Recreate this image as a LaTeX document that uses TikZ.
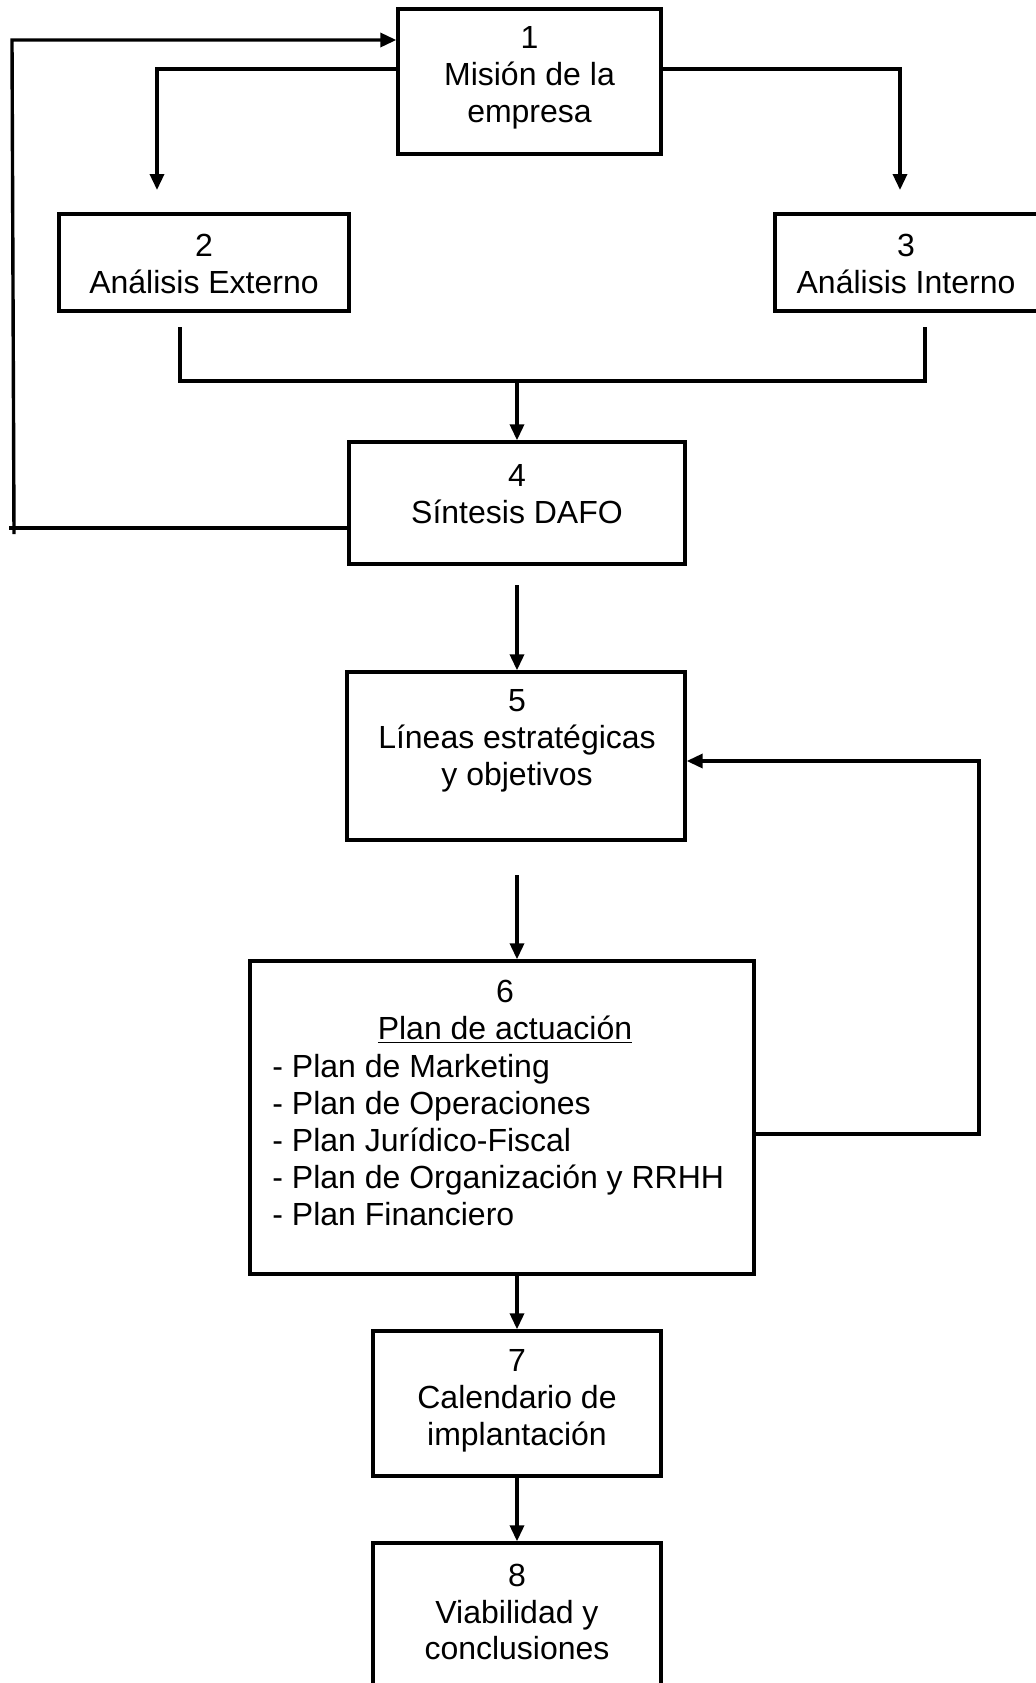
\documentclass[tikz,border=0pt]{standalone}
\usepackage{fontspec}
\setmainfont{Liberation Sans}
\usetikzlibrary{arrows.meta,calc}
\begin{document}
\begin{tikzpicture}[x=0.5pt,y=-0.5pt,
  box/.style={draw,line width=1.7pt,inner sep=0pt},
  txt/.style={align=center,inner sep=0pt,font=\fontsize{16}{18.4}\selectfont},
  lst/.style={align=left,inner sep=0pt,anchor=west,font=\fontsize{16}{18.4}\selectfont},
  conn/.style={line width=1.7pt},
  arr/.style={line width=1.7pt,-{Triangle[length=8pt,width=7pt]}}]
\useasboundingbox (0,0) rectangle (1036,1683);
% boxes
\node[box,minimum width=131.5pt,minimum height=72.5pt] (b1) at (529.5,81.5) {};
\node[box,minimum width=145pt,minimum height=48.5pt] (b2) at (204,262.5) {};
\node[box,minimum width=132.5pt,minimum height=48.5pt] (b3) at (907.5,262.5) {};
\node[box,minimum width=168pt,minimum height=61pt] (b4) at (517,503) {};
\node[box,minimum width=169pt,minimum height=84pt] (b5) at (516,756) {};
\node[box,minimum width=252pt,minimum height=156.5pt] (b6) at (502,1117.5) {};
\node[box,minimum width=144pt,minimum height=72.5pt] (b7) at (517,1403.5) {};
\node[box,minimum width=144pt,minimum height=76pt] (b8) at (517,1619) {};
% texts
\node[txt] (t1) at (529.5,78) {1\\Misión de la\\empresa};
\node[txt] (t2) at (204,264) {2\\Análisis Externo};
\node[txt] (t3) at (906,264) {3\\Análisis Interno};
\node[txt] (t4) at (517,494) {4\\Síntesis DAFO};
\node[txt] (t5) at (517,741) {5\\Líneas estratégicas\\y objetivos};
\node[txt] (t6) at (505,1012) {6\\\underline{Plan de actuación}};
\node[lst] (t6l) at (272,1140) {- Plan de Marketing\\- Plan de Operaciones\\- Plan Jurídico-Fiscal\\- Plan de Organización y RRHH\\- Plan Financiero};
\node[txt] (t7) at (517,1401) {7\\Calendario de\\implantación};
\node[txt] (t8) at (517,1612) {8\\Viabilidad y\\conclusiones};
% coordinates
\coordinate (fbA) at (14,528);
\coordinate (fbB) at (12,40);
\coordinate (l2) at (157,190);
\coordinate (l3) at (900,190);
\coordinate (m2top) at (180,327);
\coordinate (m2bot) at (180,381);
\coordinate (m3top) at (925,327);
\coordinate (m3bot) at (925,381);
\coordinate (mmid) at (517,381);
\coordinate (a45) at (517,585);
\coordinate (a56) at (517,875);
\coordinate (fr1) at (979,1134);
\coordinate (fr2) at (979,761);
% connectors
\draw[conn] ($(b4.west)+(0,25)$) -- ($(fbA)+(-5,0)$);
\draw[arr] ($(fbA)+(0,6)$) -- (fbB) -- ($(b1.west)+(0,-41.5)$);
\draw[arr] ($(b1.west)+(0,-12.5)$) -| (l2);
\draw[arr] ($(b1.east)+(0,-12.5)$) -| (l3);
\draw[conn] (m2top) -- (m2bot) -- (m3bot) -- (m3top);
\draw[arr] (mmid) -- (mmid |- b4.north);
\draw[arr] (a45) -- (a45 |- b5.north);
\draw[arr] (a56) -- (a56 |- b6.north);
\draw[arr] (a56 |- b6.south) -- (a56 |- b7.north);
\draw[arr] (b7.south) -- (b8.north);
\draw[arr] (b6.east |- fr1) -- (fr1) -- (fr2) -- (b5.east |- fr2);
\end{tikzpicture}
\end{document}
